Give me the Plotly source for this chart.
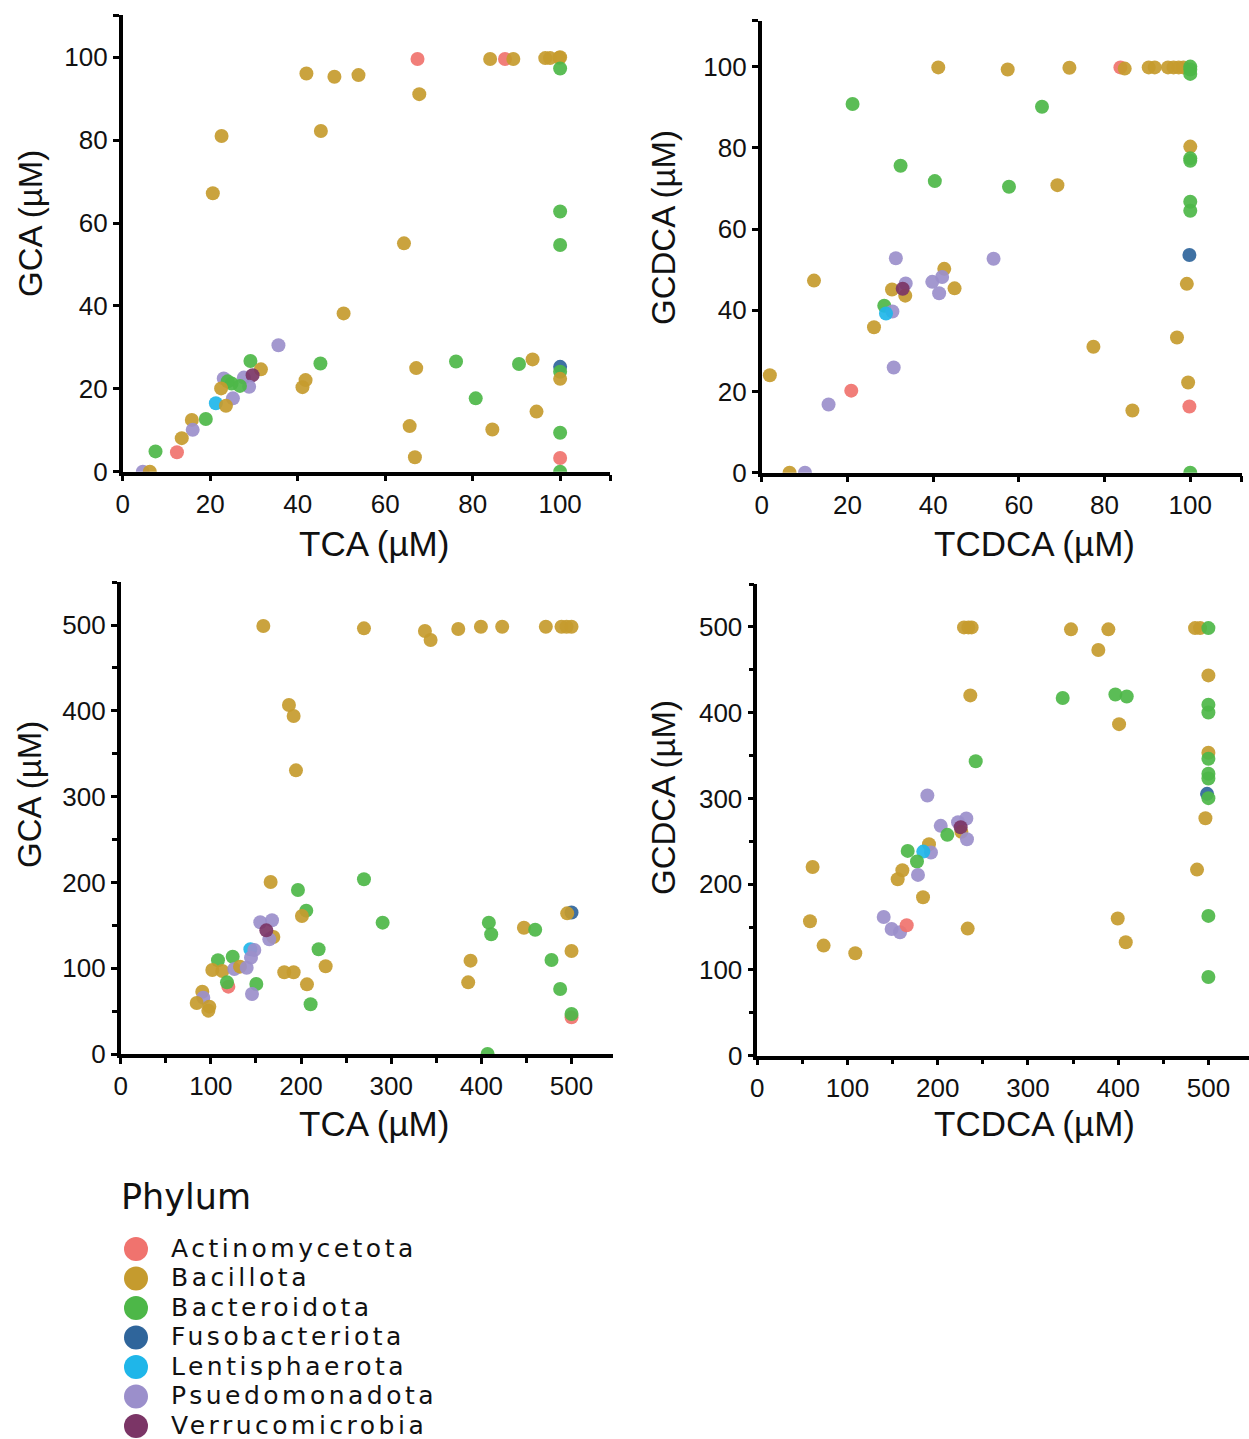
import plotly.graph_objects as go

W, H = 1249, 1439
FONT = "Liberation Sans, Arial, Helvetica, sans-serif"
KEY_FONT = "DejaVu Sans, Liberation Sans, sans-serif"

# Phylum colour key
PHYLA = ["Actinomycetota", "Bacillota", "Bacteroidota", "Fusobacteriota",
         "Lentisphaerota", "Psuedomonadota", "Verrucomicrobia"]
PHYLUM_COLORS = ["#F0736E", "#C59B2E", "#4DB748", "#2F659B",
                 "#1FB6E9", "#9B8FCB", "#7B3566"]
CODES = ["Act", "Bac", "Bct", "Fus", "Len", "Pse", "Ver"]
COLOR_OF = dict(zip(CODES, PHYLUM_COLORS))

# Panel A: 100 µM TCA -> GCA
A_TCA = [67.4, 84.0, 87.4, 89.3, 96.6, 97.7, 99.8, 100, 100, 42.0, 48.4, 53.9, 67.8, 22.6,
         45.3, 20.6, 100, 100, 64.3, 50.5, 35.6, 29.2, 31.6, 45.2, 76.2, 90.6, 93.7, 100,
         100, 100, 67.1, 41.8, 41.1, 23.1, 27.7, 29.7, 28.9, 24.9, 24.0, 26.8, 22.5, 25.2,
         21.3, 23.6, 80.7, 19.0, 15.8, 16.0, 13.5, 94.6, 65.6, 84.5, 100, 7.5, 12.4, 66.8,
         100, 100, 4.6, 6.2]
A_GCA = [99.6, 99.6, 99.6, 99.6, 99.8, 99.8, 99.9, 100, 97.3, 96.1, 95.3, 95.7, 91.1, 81.0,
         82.2, 67.2, 62.8, 54.7, 55.1, 38.2, 30.5, 26.7, 24.7, 26.1, 26.6, 26.0, 27.1, 25.3,
         24.1, 22.4, 25.0, 22.1, 20.4, 22.5, 22.7, 23.3, 20.5, 21.3, 21.8, 20.7, 20.1, 17.7,
         16.5, 15.9, 17.7, 12.7, 12.5, 10.1, 8.1, 14.5, 11.0, 10.2, 9.4, 4.9, 4.7, 3.5,
         3.3, 0, 0, 0]
A_PHYLUM = ["Act", "Bac", "Act", "Bac", "Bac", "Bac", "Bac", "Bac", "Bct", "Bac", "Bac", "Bac", "Bac", "Bac",
            "Bac", "Bac", "Bct", "Bct", "Bac", "Bac", "Pse", "Bct", "Bac", "Bct", "Bct", "Bct", "Bac", "Fus",
            "Bct", "Bac", "Bac", "Bac", "Bac", "Pse", "Pse", "Ver", "Pse", "Bct", "Bct", "Bct", "Bac", "Pse",
            "Len", "Bac", "Bct", "Bct", "Bac", "Pse", "Bac", "Bac", "Bac", "Bac", "Bct", "Bct", "Act", "Bac",
            "Act", "Bct", "Pse", "Bac"]

# Panel B: 100 µM TCDCA -> GCDCA
B_TCDCA = [41.2, 57.4, 71.8, 83.7, 84.7, 90.3, 91.7, 94.8, 96.1, 97.3, 98.4, 100, 100, 100,
           21.2, 65.4, 100, 100, 100, 32.4, 40.4, 57.7, 69.0, 100, 100, 99.8, 31.3, 54.1,
           42.6, 42.1, 39.8, 33.6, 30.4, 33.5, 32.9, 45.0, 41.4, 99.2, 28.6, 30.5, 29.0,
           12.2, 26.2, 96.9, 77.4, 30.8, 1.9, 20.9, 15.6, 99.5, 86.5, 99.8, 100, 6.5, 10.1]
B_GCDCA = [99.8, 99.3, 99.7, 99.8, 99.5, 99.8, 99.8, 99.8, 99.8, 99.8, 99.8, 100, 99.3, 98.2,
           90.8, 90.1, 80.3, 77.4, 76.8, 75.6, 71.8, 70.4, 70.8, 66.7, 64.5, 53.6, 52.8, 52.7,
           50.2, 48.2, 47.0, 46.6, 45.1, 43.6, 45.3, 45.4, 44.2, 46.5, 41.1, 39.7, 39.2,
           47.3, 35.8, 33.3, 31.0, 25.9, 24.0, 20.2, 16.8, 22.2, 15.3, 16.3, 0, 0, 0]
B_PHYLUM = ["Bac", "Bac", "Bac", "Act", "Bac", "Bac", "Bac", "Bac", "Bac", "Bac", "Bac", "Bct", "Bct", "Bct",
            "Bct", "Bct", "Bac", "Bct", "Bct", "Bct", "Bct", "Bct", "Bac", "Bct", "Bct", "Fus", "Pse", "Pse",
            "Bac", "Pse", "Pse", "Pse", "Bac", "Bac", "Ver", "Bac", "Pse", "Bac", "Bct", "Pse", "Len",
            "Bac", "Bac", "Bac", "Bac", "Pse", "Bac", "Act", "Pse", "Bac", "Bac", "Act", "Bct", "Bac", "Pse"]

# Panel C: 500 µM TCA -> GCA
C_TCA = [158.2, 269.8, 337.4, 343.7, 374.4, 399.5, 423.1, 471.5, 488.9, 494.5, 500, 186.6,
         191.8, 194.4, 166.3, 269.8, 196.6, 205.8, 201.0, 500, 495.2, 290.5, 408.3, 410.9,
         447.2, 459.7, 154.8, 167.8, 169.3, 164.8, 161.5, 143.8, 148.2, 144.5, 219.5, 227.3,
         500, 477.8, 388.0, 385.4, 487.4, 500, 500, 406.9, 107.9, 124.2, 101.6, 112.7, 126.0,
         132.3, 139.7, 119.4, 117.9, 150.4, 145.6, 181.4, 191.8, 206.6, 210.6, 90.5, 91.6,
         84.3, 98.3, 97.2]
C_GCA = [498.8, 496.1, 493.0, 482.5, 495.3, 498, 498, 498, 498, 498, 498, 406.8,
         393.9, 330.6, 200.5, 203.6, 191.1, 167.1, 160.8, 165, 163.9, 153.1, 153.1, 139.5,
         147.2, 144.9, 153.5, 155.8, 136.4, 133.6, 144.1, 122, 121.2, 112.3, 122, 102.2,
         120, 109.6, 108.8, 83.5, 75.8, 42.7, 46.6, 0, 109.2, 113.4, 97.9, 96.7, 99.1,
         101.8, 100.6, 78.5, 83.5, 81.6, 69.9, 95.2, 95.2, 81.2, 57.9, 72.6, 65.7,
         59.4, 55.2, 50.5]
C_PHYLUM = ["Bac", "Bac", "Bac", "Bac", "Bac", "Bac", "Bac", "Bac", "Bac", "Bac", "Bac", "Bac",
            "Bac", "Bac", "Bac", "Bct", "Bct", "Bct", "Bac", "Fus", "Bac", "Bct", "Bct", "Bct",
            "Bac", "Bct", "Pse", "Pse", "Bac", "Pse", "Ver", "Len", "Pse", "Pse", "Bct", "Bac",
            "Bac", "Bct", "Bac", "Bac", "Bct", "Act", "Bct", "Bct", "Bct", "Bct", "Bac", "Bac", "Pse",
            "Bac", "Pse", "Act", "Bct", "Bct", "Pse", "Bac", "Bac", "Bac", "Bct", "Bac", "Pse",
            "Bac", "Bac", "Bac"]

# Panel D: 500 µM TCDCA -> GCDCA
D_TCDCA = [229.1, 234.0, 237.6, 347.7, 389.1, 378.0, 485.2, 490.8, 500, 500, 236.1, 338.5,
           396.9, 409.5, 500, 500, 401.0, 500, 500, 242.1, 500, 500, 498.5, 500, 496.7,
           188.5, 231.7, 222.5, 226.2, 225.4, 203.3, 210.6, 232.4, 190.3, 192.5, 184.0, 166.7,
           177.0, 160.8, 155.6, 178.1, 61.3, 183.7, 487.4, 58.4, 140.1, 148.9, 158.2, 165.6,
           233.2, 500, 399.5, 408.4, 73.5, 108.6, 500]
D_GCDCA = [499.4, 499.4, 499.4, 497.1, 497.1, 473.0, 498.6, 498.6, 498.6, 443.4, 420.1, 417.0,
           421.2, 418.9, 409.2, 400.2, 386.6, 353.2, 346.2, 343.4, 328.7, 323.2, 305.3, 300.3, 276.9,
           303.4, 276.5, 272.3, 261.0, 266.4, 268.0, 257.5, 252.4, 246.6, 236.9, 238.0, 238.8,
           226.4, 216.3, 205.8, 210.8, 220.1, 184.8, 217.0, 156.7, 161.8, 147.8, 143.9, 152.1,
           148.2, 163.0, 159.9, 132.2, 128.4, 119.4, 91.8]
D_PHYLUM = ["Bac", "Bac", "Bac", "Bac", "Bac", "Bac", "Bac", "Bac", "Bct", "Bac", "Bac", "Bct",
            "Bct", "Bct", "Bct", "Bct", "Bac", "Bac", "Bct", "Bct", "Bct", "Bct", "Fus", "Bct", "Bac",
            "Pse", "Pse", "Pse", "Bac", "Ver", "Pse", "Bct", "Pse", "Bac", "Pse", "Len", "Bct",
            "Bct", "Bac", "Bac", "Pse", "Bac", "Bac", "Bac", "Bac", "Pse", "Pse", "Pse", "Act",
            "Bac", "Bct", "Bac", "Bac", "Bac", "Bac", "Bct"]


def xdom(left, right):
    return [left / W, min(right / W, 1.0)]


def ydom(top, bottom):
    return [1 - bottom / H, 1 - top / H]


def px_x(v):
    return v / W


def px_y(v):
    return 1 - v / H


panels = [
    dict(x=A_TCA, y=A_GCA, ph=A_PHYLUM, xd=xdom(122.7, 610), yd=ydom(15, 471.7),
         xr=[0, 111.4], yr=[0, 110.2], big=False,
         xt="TCA (µM)", yt="GCA (µM)", xt_pos=(374, 543), yt_pos=(30, 224)),
    dict(x=B_TCDCA, y=B_GCDCA, ph=B_PHYLUM, xd=xdom(761.7, 1241.7), yd=ydom(20.7, 472.7),
         xr=[0, 112], yr=[0, 111.3], big=False,
         xt="TCDCA (µM)", yt="GCDCA (µM)", xt_pos=(1034, 543), yt_pos=(664, 228)),
    dict(x=C_TCA, y=C_GCA, ph=C_PHYLUM, xd=xdom(120.7, 613), yd=ydom(582.1, 1054),
         xr=[0, 546], yr=[0, 550], big=True,
         xt="TCA (µM)", yt="GCA (µM)", xt_pos=(374, 1123), yt_pos=(30, 795)),
    dict(x=D_TCDCA, y=D_GCDCA, ph=D_PHYLUM, xd=xdom(757.3, 1249), yd=ydom(584, 1055.7),
         xr=[0, 545], yr=[0, 550], big=True,
         xt="TCDCA (µM)", yt="GCDCA (µM)", xt_pos=(1034, 1123), yt_pos=(664, 798)),
]

fig = go.Figure()
annotations = []
axis_common = dict(
    showline=True, linecolor="black", linewidth=3.5, mirror=False,
    ticks="outside", ticklen=6, tickwidth=3, tickcolor="black",
    showgrid=False, zeroline=False, fixedrange=True, automargin=False,
    tickfont=dict(family=FONT, size=26, color="#111111"),
)

for i, p in enumerate(panels, start=1):
    sfx = "" if i == 1 else str(i)
    fig.add_trace(go.Scatter(
        x=p["x"], y=p["y"], mode="markers",
        marker=dict(size=14, color=[COLOR_OF[c] for c in p["ph"]], opacity=0.92,
                    line=dict(width=0)),
        xaxis="x" + sfx, yaxis="y" + sfx, showlegend=False, hoverinfo="x+y",
    ))
    if p["big"]:
        minor = dict(dtick=50, tick0=0, ticks="outside", ticklen=5, tickwidth=3,
                     tickcolor="black")
        xt = dict(tickmode="array", tickvals=[0, 100, 200, 300, 400, 500], minor=minor)
        yt = dict(tickmode="array", tickvals=[0, 100, 200, 300, 400, 500], minor=minor)
    else:
        xv = [0, 20, 40, 60, 80, 100, p["xr"][1]]
        yv = [0, 20, 40, 60, 80, 100, p["yr"][1]]
        xt = dict(tickmode="array", tickvals=xv,
                  ticktext=[str(v) for v in xv[:-1]] + [""])
        yt = dict(tickmode="array", tickvals=yv,
                  ticktext=[str(v) for v in yv[:-1]] + [""])
    fig.update_layout(**{
        "xaxis" + sfx: dict(domain=p["xd"], range=p["xr"], anchor="y" + sfx, **xt, **axis_common),
        "yaxis" + sfx: dict(domain=p["yd"], range=p["yr"], anchor="x" + sfx, **yt, **axis_common),
    })
    annotations.append(dict(text=p["xt"], xref="paper", yref="paper",
                            x=px_x(p["xt_pos"][0]), y=px_y(p["xt_pos"][1]),
                            xanchor="center", yanchor="middle", showarrow=False,
                            font=dict(family=FONT, size=35, color="#111111")))
    annotations.append(dict(text=p["yt"], xref="paper", yref="paper",
                            x=px_x(p["yt_pos"][0]), y=px_y(p["yt_pos"][1]),
                            xanchor="center", yanchor="middle", showarrow=False, textangle=-90,
                            font=dict(family=FONT, size=33, color="#111111")))

# Phylum key below the panels, drawn on its own pixel-scaled axes
LEG_TOP, LEG_ROW0, LEG_STEP = 1170, 1249, 29.5
leg_y = [LEG_ROW0 + LEG_STEP * k for k in range(len(PHYLA))]
fig.add_trace(go.Scatter(
    x=[136] * len(PHYLA), y=leg_y, mode="markers",
    marker=dict(size=24, color=PHYLUM_COLORS, line=dict(width=0)),
    xaxis="x5", yaxis="y5", showlegend=False, hoverinfo="skip", cliponaxis=False,
))
fig.update_layout(
    xaxis5=dict(domain=[0, 1], range=[0, W], visible=False, fixedrange=True, anchor="y5"),
    yaxis5=dict(domain=[0, (H - LEG_TOP) / H], range=[H, LEG_TOP], visible=False,
                fixedrange=True, anchor="x5"),
)
annotations.append(dict(text="Phylum", xref="x5", yref="y5", x=119, y=1197,
                        xanchor="left", yanchor="middle", showarrow=False,
                        font=dict(family=KEY_FONT, size=35, color="#111111")))
for name, yy in zip(PHYLA, leg_y):
    annotations.append(dict(text='<span style="letter-spacing:3.5px">%s</span>' % name,
                            xref="x5", yref="y5", x=169, y=yy - 1,
                            xanchor="left", yanchor="middle", showarrow=False,
                            font=dict(family=KEY_FONT, size=25, color="#111111")))

fig.update_layout(
    width=W, height=H, autosize=False,
    margin=dict(l=0, r=0, t=0, b=0, pad=0, autoexpand=False),
    paper_bgcolor="white", plot_bgcolor="white",
    annotations=annotations, showlegend=False,
)

fig.write_html(
    "out.html", include_plotlyjs=True, config={"displayModeBar": False},
    post_script="document.body.style.margin='0';",
)
